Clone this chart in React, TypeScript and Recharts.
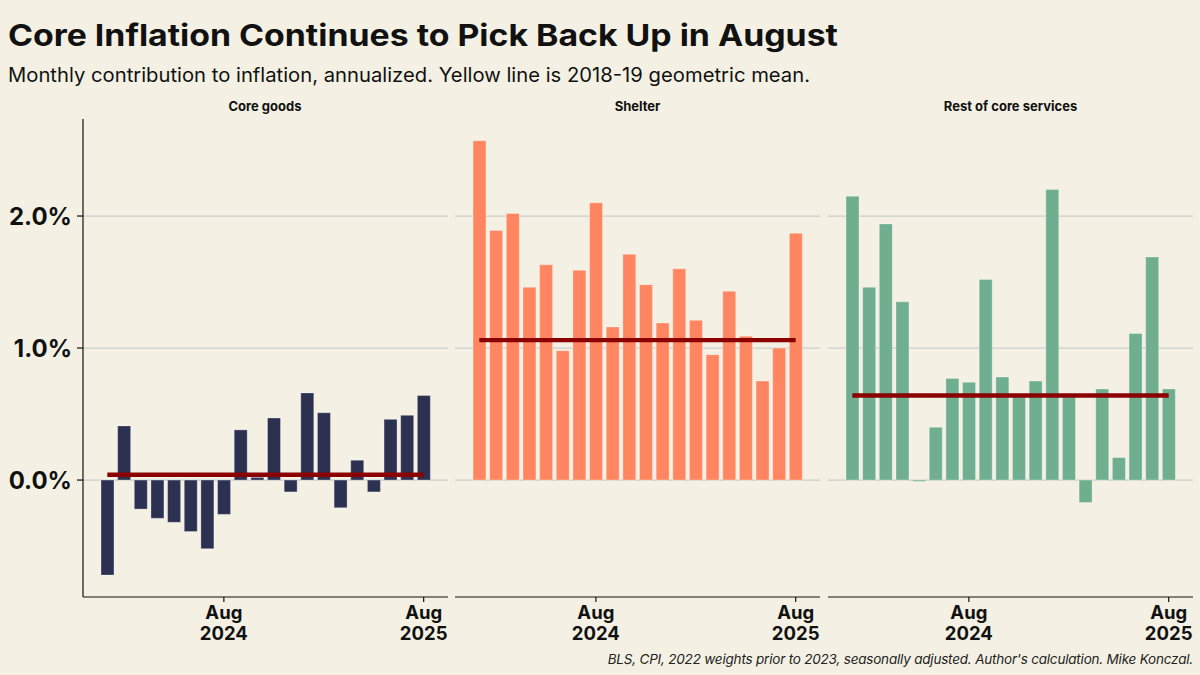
import React from 'react';
import { BarChart, Bar, XAxis, YAxis, CartesianGrid, ReferenceLine } from 'recharts';

const months = [
  '2024-01', '2024-02', '2024-03', '2024-04', '2024-05', '2024-06', '2024-07', '2024-08',
  '2024-09', '2024-10', '2024-11', '2024-12', '2025-01', '2025-02', '2025-03', '2025-04',
  '2025-05', '2025-06', '2025-07', '2025-08',
];
const coreGoods = [-0.72, 0.41, -0.22, -0.29, -0.32, -0.39, -0.52, -0.26, 0.38, 0.02, 0.47, -0.09, 0.66, 0.51, -0.21, 0.15, -0.09, 0.46, 0.49, 0.64];
const shelter = [2.57, 1.89, 2.02, 1.46, 1.63, 0.98, 1.59, 2.1, 1.16, 1.71, 1.48, 1.19, 1.6, 1.21, 0.95, 1.43, 1.09, 0.75, 1.0, 1.87];
const restCore = [2.15, 1.46, 1.94, 1.35, -0.01, 0.4, 0.77, 0.74, 1.52, 0.78, 0.64, 0.75, 2.2, 0.63, -0.17, 0.69, 0.17, 1.11, 1.69, 0.69];
const panelTitles = ['Core goods', 'Shelter', 'Rest of core services'];
const meanValues = [0.04, 1.06, 0.64];
const xTicks = ['2024-08', '2025-08'];
const xTickLabels: Record<string, [string, string]> = {
  '2024-08': ['Aug', '2024'],
  '2025-08': ['Aug', '2025'],
};
const yTicks = [0, 1, 2];
const yDomain: [number, number] = [-0.886, 2.735];

const BG = '#f4f1e4';
const COLORS = ['#2c3152', '#ff8661', '#6fae8f'];
const MEAN_COLOR = '#8b0000';
const FONT = 'Inter, "Noto Sans", sans-serif';

const series = [coreGoods, shelter, restCore];

const PLOT_TOP = 119;
const PLOT_BOTTOM = 597;
const H = 675;
const X_AXIS_H = 40;

const XTick = (props: any) => {
  const { x, y, payload } = props;
  const lab = xTickLabels[payload.value] || ['', ''];
  return (
    <text x={x} y={y + 14.5} textAnchor="middle" fontFamily={FONT} fontWeight={700} fontSize={18.5} fill="#111">
      <tspan x={x} dy={0}>{lab[0]}</tspan>
      <tspan x={x} dy={21.5}>{lab[1]}</tspan>
    </text>
  );
};

const panels = [
  { left: 0, width: 448, yAxis: true },
  { left: 455, width: 365, yAxis: false },
  { left: 828, width: 365, yAxis: false },
];

function Panel({ idx }: { idx: number }) {
  const p = panels[idx];
  const data = months.map((m, i) => ({ month: m, value: series[idx][i] }));
  return (
    <div style={{ position: 'absolute', left: p.left, top: 0, width: p.width, height: H }}>
      <BarChart
        width={p.width}
        height={H}
        data={data}
        margin={{ top: PLOT_TOP, right: 0, left: 0, bottom: H - PLOT_BOTTOM - X_AXIS_H }}
        barSize={13}
      >
        <CartesianGrid vertical={false} horizontalValues={yTicks} stroke="#cdcdcd" strokeWidth={1.2} />
        <XAxis
          dataKey="month"
          ticks={xTicks}
          interval={0}
          height={X_AXIS_H}
          padding={{ left: 16, right: 16 }}
          tickSize={5}
          tickMargin={2}
          tick={<XTick />}
          axisLine={{ stroke: '#111', strokeWidth: 1.2 }}
          tickLine={{ stroke: '#111', strokeWidth: 1.2 }}
        />
        <YAxis
          hide={!p.yAxis}
          width={83}
          domain={yDomain}
          allowDataOverflow
          ticks={yTicks}
          interval={0}
          tickFormatter={(v: number) => `${v.toFixed(1)}%`}
          tickSize={6}
          tickMargin={5}
          tick={{ fontFamily: FONT, fontWeight: 700, fontSize: 24, fill: '#111' }}
          axisLine={{ stroke: '#111', strokeWidth: 1.2 }}
          tickLine={{ stroke: '#111', strokeWidth: 1.2 }}
        />
        <Bar
          dataKey="value"
          fill={COLORS[idx]}
          stroke="#ffffff"
          strokeOpacity={0.45}
          strokeWidth={0.7}
          isAnimationActive={false}
        />
        <ReferenceLine
          segment={[
            { x: months[0], y: meanValues[idx] },
            { x: months[months.length - 1], y: meanValues[idx] },
          ]}
          stroke={MEAN_COLOR}
          strokeWidth={4.4}
          ifOverflow="visible"
        />
      </BarChart>
    </div>
  );
}

export default function App() {
  const centers = [265, 637.5, 1010.5];
  return (
    <div style={{ position: 'absolute', left: 0, top: 0, width: 1200, height: H, background: BG, overflow: 'hidden' }}>
      <Panel idx={0} />
      <Panel idx={1} />
      <Panel idx={2} />
      <svg width={1200} height={118} style={{ position: 'absolute', left: 0, top: 0, pointerEvents: 'none' }}>
        <text x={8} y={46} fontFamily={FONT} fontWeight={700} fontSize={30} fill="#111" textLength={830} lengthAdjust="spacingAndGlyphs">
          Core Inflation Continues to Pick Back Up in August
        </text>
        <text x={8} y={82} fontFamily={FONT} fontWeight={400} fontSize={19.5} fill="#111" textLength={802} lengthAdjust="spacingAndGlyphs">
          Monthly contribution to inflation, annualized. Yellow line is 2018-19 geometric mean.
        </text>
        {panelTitles.map((t, i) => (
          <text key={t} x={centers[i]} y={111} textAnchor="middle" fontFamily={FONT} fontWeight={700} fontSize={13} fill="#111">
            {t}
          </text>
        ))}
      </svg>
      <div
        style={{
          position: 'absolute',
          right: 7,
          top: 651,
          fontFamily: FONT,
          fontStyle: 'italic',
          fontSize: 13.5,
          letterSpacing: '-0.2px',
          lineHeight: '17px',
          color: '#222',
          whiteSpace: 'nowrap',
        }}
      >
        BLS, CPI, 2022 weights prior to 2023, seasonally adjusted. Author's calculation. Mike Konczal.
      </div>
    </div>
  );
}
